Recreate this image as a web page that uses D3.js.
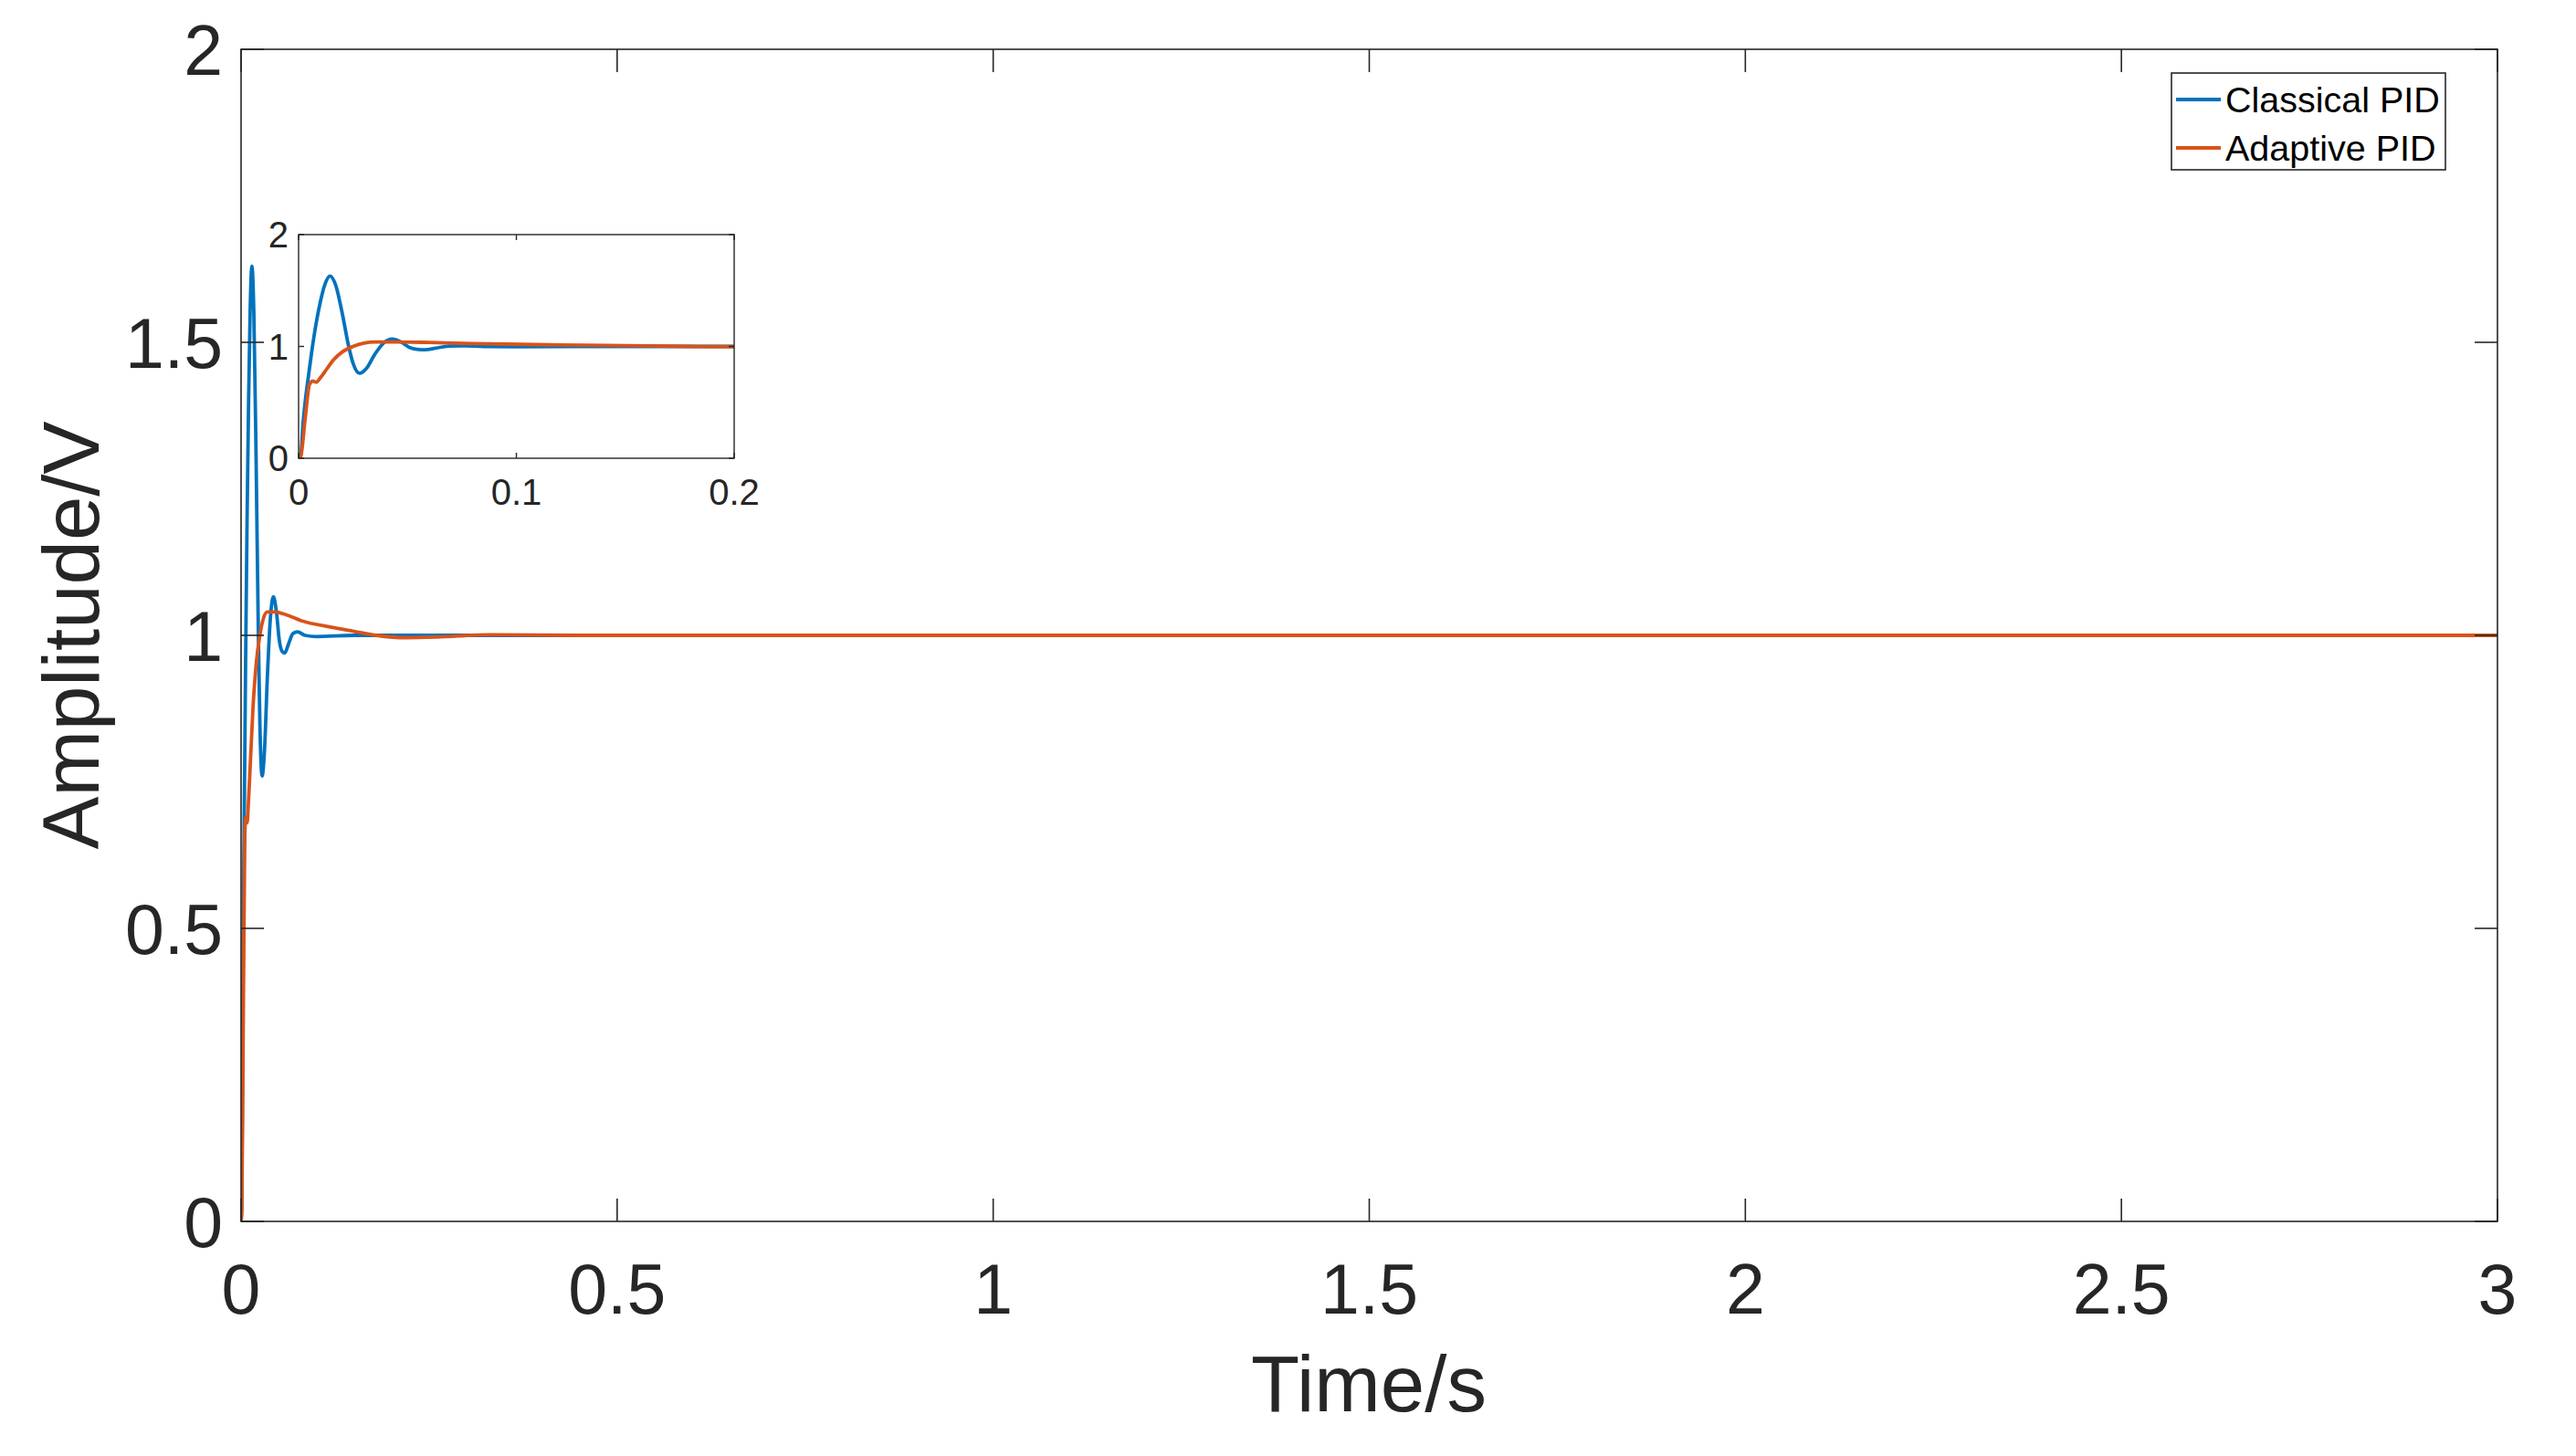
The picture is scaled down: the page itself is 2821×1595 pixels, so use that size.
<!DOCTYPE html>
<html>
<head>
<meta charset="utf-8">
<script src="https://cdn.jsdelivr.net/npm/d3@7"></script>
<style>
  body { margin: 0; background: #fff; }
  text { font-family: "Liberation Sans", Arial, sans-serif; }
</style>
</head>
<body>
<svg width="2821" height="1595"></svg>
<script>
// Step response data
var timeClassical = [0, 0.001, 0.002, 0.003, 0.004, 0.006, 0.008, 0.010, 0.012, 0.0144, 0.017, 0.020, 0.023,
  0.025, 0.028, 0.031, 0.035, 0.039, 0.043, 0.047, 0.051, 0.055, 0.058, 0.063, 0.069, 0.075, 0.085, 0.1, 0.15, 0.3, 3];
var ampClassical = [0, 0.03, 0.3, 0.5, 0.66, 0.95, 1.2, 1.4, 1.55, 1.63, 1.55, 1.3, 1.0,
  0.85, 0.76, 0.80, 0.93, 1.03, 1.066, 1.04, 0.99, 0.972, 0.97, 0.985, 1.003, 1.006, 1.0, 0.998, 1.0, 1.0, 1.0];

var timeAdaptive = [0, 0.001, 0.003, 0.005, 0.0065, 0.008, 0.010, 0.013, 0.016, 0.020, 0.025, 0.030, 0.035,
  0.045, 0.06, 0.08, 0.12, 0.15, 0.18, 0.22, 0.26, 0.33, 0.45, 3];
var ampAdaptive = [0, 0.02, 0.35, 0.66, 0.69, 0.68, 0.72, 0.80, 0.88, 0.95, 1.0, 1.03, 1.04,
  1.04, 1.035, 1.025, 1.014, 1.007, 1.0, 0.996, 0.997, 1.001, 1.0, 1.0];

var seriesNames = ["Classical PID", "Adaptive PID"];
var seriesColors = ["#0072BD", "#D95319"];

var xTicks = [0, 0.5, 1, 1.5, 2, 2.5, 3];
var yTicks = [0, 0.5, 1, 1.5, 2];
var insetXTicks = [0, 0.1, 0.2];
var insetYTicks = [0, 1, 2];

var series = [
  timeClassical.map(function(t, i) { return [t, ampClassical[i]]; }),
  timeAdaptive.map(function(t, i) { return [t, ampAdaptive[i]]; })
];

var svg = d3.select("svg");
var axisColor = "#262626";

function drawAxes(opts) {
  var x = d3.scaleLinear().domain(opts.xDomain).range([opts.left, opts.right]);
  var y = d3.scaleLinear().domain(opts.yDomain).range([opts.bottom, opts.top]);
  var g = svg.append("g");

  g.append("rect")
      .attr("x", opts.left).attr("y", opts.top)
      .attr("width", opts.right - opts.left).attr("height", opts.bottom - opts.top)
      .attr("fill", "#fff");

  var clipId = "clip" + opts.id;
  g.append("clipPath").attr("id", clipId)
    .append("rect")
      .attr("x", opts.left).attr("y", opts.top - 2)
      .attr("width", opts.right - opts.left).attr("height", opts.bottom - opts.top + 2);

  var line = d3.line()
      .x(function(d) { return x(d[0]); })
      .y(function(d) { return y(d[1]); })
      .curve(d3.curveMonotoneX);

  g.append("g").attr("clip-path", "url(#" + clipId + ")")
    .selectAll("path")
    .data(series)
    .enter().append("path")
      .attr("d", line)
      .attr("fill", "none")
      .attr("stroke", function(d, i) { return seriesColors[i]; })
      .attr("stroke-width", opts.lineWidth)
      .attr("stroke-linejoin", "round");

  // box
  g.append("rect")
      .attr("x", opts.left).attr("y", opts.top)
      .attr("width", opts.right - opts.left).attr("height", opts.bottom - opts.top)
      .attr("fill", "none").attr("stroke", axisColor).attr("stroke-width", opts.boxWidth);

  // inward ticks on all four sides
  var tl = opts.tickLen;
  opts.xTicks.forEach(function(v) {
    g.append("line").attr("x1", x(v)).attr("x2", x(v)).attr("y1", opts.bottom).attr("y2", opts.bottom - tl)
      .attr("stroke", axisColor).attr("stroke-width", opts.boxWidth);
    g.append("line").attr("x1", x(v)).attr("x2", x(v)).attr("y1", opts.top).attr("y2", opts.top + tl)
      .attr("stroke", axisColor).attr("stroke-width", opts.boxWidth);
  });
  opts.yTicks.forEach(function(v) {
    g.append("line").attr("x1", opts.left).attr("x2", opts.left + tl).attr("y1", y(v)).attr("y2", y(v))
      .attr("stroke", axisColor).attr("stroke-width", opts.boxWidth);
    g.append("line").attr("x1", opts.right).attr("x2", opts.right - tl).attr("y1", y(v)).attr("y2", y(v))
      .attr("stroke", axisColor).attr("stroke-width", opts.boxWidth);
  });

  g.selectAll(".xl").data(opts.xTicks).enter().append("text")
      .attr("x", function(d) { return x(d); })
      .attr("y", opts.bottom + opts.xLabelGap)
      .attr("dy", "0.72em")
      .attr("text-anchor", "middle")
      .attr("font-size", opts.fontSize)
      .attr("fill", axisColor)
      .text(function(d) { return d; });

  g.selectAll(".yl").data(opts.yTicks).enter().append("text")
      .attr("x", opts.left - opts.yLabelGap)
      .attr("y", function(d) { return y(d); })
      .attr("dy", "0.36em")
      .attr("text-anchor", "end")
      .attr("font-size", opts.fontSize)
      .attr("fill", axisColor)
      .text(function(d) { return d; });

  return g;
}

// main axes
drawAxes({
  id: "main", left: 264, right: 2735, top: 54, bottom: 1338,
  xDomain: [0, 3], yDomain: [0, 2], xTicks: xTicks, yTicks: yTicks,
  tickLen: 25, lineWidth: 3.8, boxWidth: 1.6, fontSize: 77, xLabelGap: 46, yLabelGap: 20
});

// axis titles
svg.append("text")
    .attr("x", 1499).attr("y", 1546)
    .attr("text-anchor", "middle")
    .attr("font-size", 87)
    .attr("fill", axisColor)
    .text("Time/s");

svg.append("text")
    .attr("transform", "translate(108,696) rotate(-90)")
    .attr("text-anchor", "middle")
    .attr("font-size", 87)
    .attr("fill", axisColor)
    .text("Amplitude/V");

// legend
var legend = svg.append("g");
legend.append("rect")
    .attr("x", 2378).attr("y", 80).attr("width", 300).attr("height", 106)
    .attr("fill", "#fff").attr("stroke", axisColor).attr("stroke-width", 1.6);
seriesNames.forEach(function(name, i) {
  var cy = 109 + i * 53;
  legend.append("line")
      .attr("x1", 2383).attr("x2", 2432).attr("y1", cy).attr("y2", cy)
      .attr("stroke", seriesColors[i]).attr("stroke-width", 3.8);
  legend.append("text")
      .attr("x", 2437).attr("y", cy).attr("dy", "0.36em")
      .attr("font-size", 39.5).attr("fill", "#000")
      .text(name);
});

// inset axes
drawAxes({
  id: "inset", left: 327, right: 804, top: 257, bottom: 502,
  xDomain: [0, 0.2], yDomain: [0, 2], xTicks: insetXTicks, yTicks: insetYTicks,
  tickLen: 6, lineWidth: 3.8, boxWidth: 1.4, fontSize: 40, xLabelGap: 22, yLabelGap: 11
});
</script>
</body>
</html>
